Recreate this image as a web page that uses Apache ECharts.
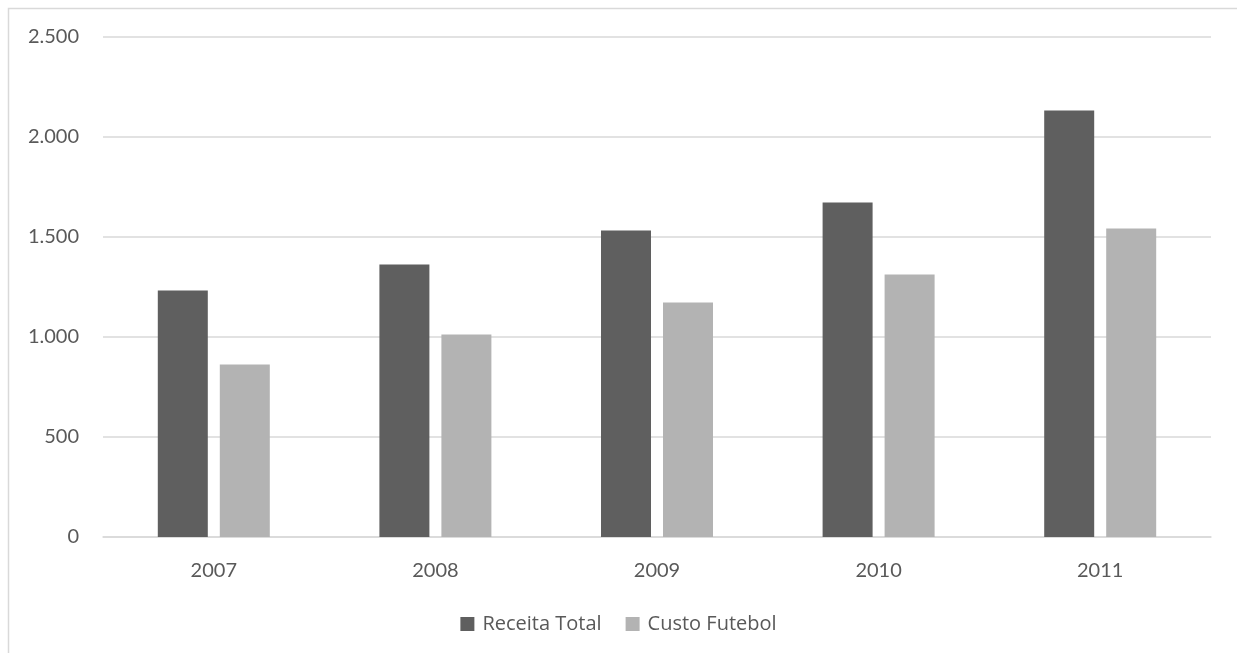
<!DOCTYPE html>
<html>
<head>
<meta charset="utf-8">
<script src="https://cdn.jsdelivr.net/npm/echarts@6/dist/echarts.min.js"></script>
<style>
  html, body { margin: 0; padding: 0; background: #fff; }
  #main { width: 1237px; height: 653px; }
</style>
</head>
<body>
<div id="main"></div>
<script>
// anos
const years = ['2007', '2008', '2009', '2010', '2011'];
// séries
const receitaTotal = [1233, 1363, 1533, 1673, 2133];
const custoFutebol = [863, 1013, 1173, 1313, 1543];
const seriesNames = ['Receita Total', 'Custo Futebol'];

const fontFamily = 'Lato, "Open Sans", sans-serif';
const textColor = '#595959';
const gridColor = '#d9d9d9';

const chart = echarts.init(document.getElementById('main'));
chart.setOption({
  animation: false,
  backgroundColor: '#fff',
  textStyle: { fontFamily: fontFamily },
  // borda do gráfico
  graphic: [{
    type: 'rect',
    shape: { x: 8.5, y: 8.5, width: 1300, height: 700 },
    style: { fill: 'none', stroke: gridColor, lineWidth: 1.5 },
    silent: true
  }],
  grid: {
    left: 103,
    right: 26,
    top: 37,
    bottom: 116
  },
  legend: {
    data: seriesNames,
    bottom: 14,
    left: 'center',
    itemWidth: 14,
    itemHeight: 14,
    itemGap: 24,
    icon: 'rect',
    textStyle: {
      color: textColor,
      fontSize: 20,
      fontFamily: '"Open Sans", sans-serif',
      padding: [0, 0, 0, 3]
    }
  },
  xAxis: {
    type: 'category',
    data: years,
    axisLine: { lineStyle: { color: gridColor, width: 1.5 } },
    axisTick: { show: false },
    axisLabel: { color: textColor, fontSize: 20, margin: 24, fontFamily: fontFamily }
  },
  yAxis: {
    type: 'value',
    min: 0,
    max: 2500,
    interval: 500,
    axisLine: { show: false },
    axisTick: { show: false },
    splitLine: { lineStyle: { color: gridColor, width: 1.5 } },
    axisLabel: {
      color: textColor,
      fontSize: 20,
      margin: 24,
      fontFamily: fontFamily,
      formatter: v => v.toLocaleString('de-DE')
    }
  },
  series: [{
    name: seriesNames[0],
    type: 'bar',
    data: receitaTotal,
    barWidth: 50,
    barGap: '24%',
    itemStyle: { color: '#5f5f5f' }
  }, {
    name: seriesNames[1],
    type: 'bar',
    data: custoFutebol,
    barWidth: 50,
    itemStyle: { color: '#b3b3b3' }
  }]
});
</script>
</body>
</html>
